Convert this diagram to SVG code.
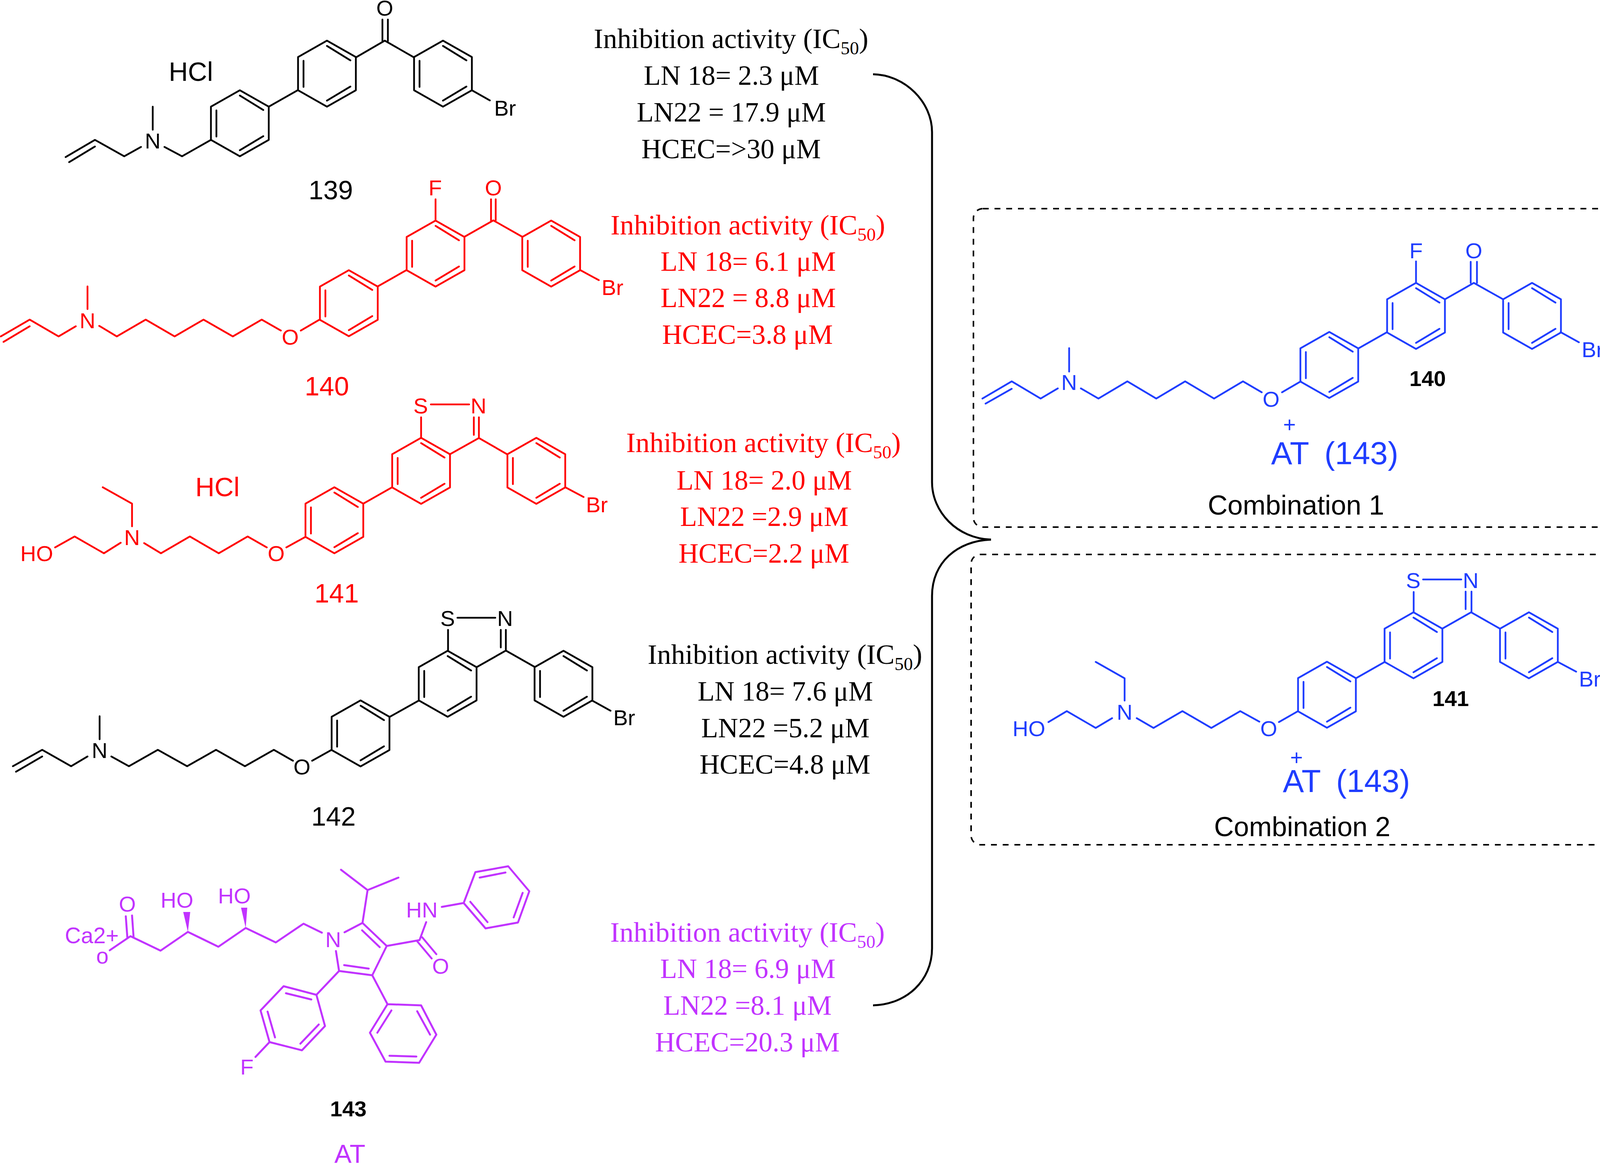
<svg xmlns="http://www.w3.org/2000/svg" width="4154" height="2979" viewBox="0 0 4154 2979">
<style>
.k{color:#000}.r{color:#f00}.u{color:#1f3dff}.p{color:#c133ff}
.b{fill:none;stroke:currentColor;stroke-width:4.5;stroke-linecap:round;stroke-linejoin:round}
text{fill:currentColor;font-family:"Liberation Sans",Arial,sans-serif}
.a{font-size:56px;text-anchor:middle}
.s{font-size:56px}
.n{font-size:68px}
.d{font-size:56px;font-weight:bold;fill:#000}
.t{font-family:"Liberation Serif","Times New Roman",serif;font-size:71px}
.h{font-size:72px}
.sub{font-size:47px}
.c{font-size:70px;fill:#000}
.at{font-size:81px;word-spacing:18px}
.box{fill:none;stroke:#000;stroke-width:4;stroke-dasharray:15 15}
.br{fill:none;stroke:#000;stroke-width:5}
</style>
<defs>
<path id="ring" class="b" d="M0-84.5L74-42.5V42.5L0 84.5L-74 42.5V-42.5ZM-60-33V34M0-71L60-34M60 33L0 69"/>
</defs>
<rect width="4154" height="2979" fill="#fff"/>

<g id="connectors">
<path class="br" d="M2235 190C2318 192 2386 262 2386 338V1234C2386 1310 2450 1378 2537 1381"/>
<path class="br" d="M2537 1381C2450 1384 2386 1440 2386 1525V2427C2386 2510 2320 2571 2235 2573"/>
</g>

<g id="m139" class="k">
<use href="#ring" x="614" y="315.5"/><use href="#ring" x="837" y="188.5"/><use href="#ring" x="1134" y="188.5"/>
<path class="b" d="M168 402L243 358L318 400L361 376M177 415L243 375M391 273V332M421 376L466 400L540 358M688 273L762 231M911 147L985 104L1060 147M979 50V105M993 50V105M1208 231L1254 257"/>
<text class="a" x="391" y="380">N</text><text class="a" x="985" y="40">O</text>
<text class="s" x="1265" y="296">Br</text>
<text class="n" x="432" y="207">HCl</text>
<text class="n" x="790" y="510">139</text>
</g>

<g id="t139" class="k">
<text class="t h" x="1520" y="123">Inhibition activity (IC<tspan class="sub" dy="16">50</tspan><tspan dy="-16">)</tspan></text>
<text class="t" x="1648" y="217">LN 18= 2.3 μM</text>
<text class="t" x="1630" y="311">LN22 = 17.9 μM</text>
<text class="t" x="1642" y="405">HCEC=&gt;30 μM</text>
</g>

<g id="m140" class="r">
<use href="#ring" x="893" y="776"/><use href="#ring" x="1115" y="649"/><use href="#ring" x="1411" y="649"/>
<path class="b" d="M2 861L76 818L150 861L194 835M9 875L76 835M224 733V791M254 834L299 861L373 818L447 861L521 818L596 861L670 818L719 846M770 846L818 818M967 733L1041 691M1115 564V510M1189 606L1263 564L1337 606M1257 510V564M1269 510V564M1485 691L1533 717"/>
<text class="a" x="224" y="840">N</text><text class="a" x="743" y="882">O</text><text class="a" x="1114" y="500">F</text><text class="a" x="1263" y="500">O</text>
<text class="s" x="1540" y="755">Br</text>
<text class="n" x="780" y="1012">140</text>
</g>

<g id="t140" class="r">
<text class="t h" x="1563" y="600">Inhibition activity (IC<tspan class="sub" dy="16">50</tspan><tspan dy="-16">)</tspan></text>
<text class="t" x="1691" y="693">LN 18= 6.1 μM</text>
<text class="t" x="1691" y="786">LN22 = 8.8 μM</text>
<text class="t" x="1695" y="880">HCEC=3.8 μM</text>
</g>

<g id="m141" class="r">
<use href="#ring" x="856" y="1331.5"/><use href="#ring" x="1078" y="1205"/><use href="#ring" x="1373" y="1205"/>
<path class="b" d="M263 1247L338 1289V1347M141 1401L191 1373L266 1416L309 1389M369 1390L412 1416L486 1373L560 1416L634 1373L683 1401M733 1401L782 1374M930 1289L1004 1247M1078 1068V1121M1103 1035H1201M1226 1068V1121M1213 1068V1113M1151 1163L1226 1121L1299 1163M1447 1247L1494 1272"/>
<text class="a" x="338" y="1395">N</text><text class="a" x="707" y="1436">O</text><text class="a" x="1077" y="1058">S</text><text class="a" x="1225" y="1058">N</text>
<text class="s" x="52" y="1436">HO</text>
<text class="s" x="1500" y="1311">Br</text>
<text class="n" x="500" y="1270">HCl</text>
<text class="n" x="805" y="1542">141</text>
</g>

<g id="t141" class="r">
<text class="t h" x="1603" y="1157">Inhibition activity (IC<tspan class="sub" dy="16">50</tspan><tspan dy="-16">)</tspan></text>
<text class="t" x="1732" y="1253">LN 18= 2.0 μM</text>
<text class="t" x="1741" y="1346">LN22 =2.9 μM</text>
<text class="t" x="1737" y="1440">HCEC=2.2 μM</text>
</g>

<g id="m142" class="k">
<use href="#ring" x="923" y="1877"/><use href="#ring" x="1146" y="1750"/><use href="#ring" x="1442.5" y="1750"/>
<path class="b" d="M33 1961L108 1919L182 1961L224 1936M41 1975L108 1936M255 1833V1892M285 1936L330 1961L404 1919L479 1961L553 1919L627 1961L701 1919L750 1947M799 1947L849 1919M997 1835L1072 1793M1147 1612V1665M1171 1581H1268M1295 1612V1665M1282 1612V1657M1221 1707L1295 1665L1369 1707M1516 1793L1563 1819"/>
<text class="a" x="255" y="1940">N</text><text class="a" x="773" y="1982">O</text><text class="a" x="1146" y="1602">S</text><text class="a" x="1293" y="1602">N</text>
<text class="s" x="1570" y="1856">Br</text>
<text class="n" x="797" y="2113">142</text>
</g>

<g id="t142" class="k">
<text class="t h" x="1658" y="1699">Inhibition activity (IC<tspan class="sub" dy="16">50</tspan><tspan dy="-16">)</tspan></text>
<text class="t" x="1786" y="1793">LN 18= 7.6 μM</text>
<text class="t" x="1795" y="1887">LN22 =5.2 μM</text>
<text class="t" x="1791" y="1980">HCEC=4.8 μM</text>
</g>

<g id="m143" class="p">
<path class="b" style="stroke-width:5" d="M322 2345L326 2399M338 2343L342 2399M281 2432L334 2396L411 2433L481 2385L559 2423L629 2375L706 2412L777 2364L824 2387M882 2386L928 2362L990 2421L953 2496L868 2485L860 2434M927 2381L972 2424M881 2470L944 2479M928 2362L941 2278L873 2226M941 2278L1020 2246M990 2421L1074 2406L1091 2360M1081 2399L1117 2442M1068 2409L1105 2453M1131 2321L1187 2311M1187 2311L1217 2232L1301 2217L1355 2281L1326 2361L1243 2376ZM1228 2246L1294 2233M1338 2285L1315 2348M1248 2360L1204 2308M868 2485L810 2546M810 2546L726 2524L667 2586L690 2667L773 2688L832 2626ZM797 2558L732 2542M685 2589L704 2655M769 2671L816 2622M690 2667L654 2705M953 2496L992 2570M992 2570L1078 2573L1117 2648L1073 2720L987 2717L947 2643ZM1002 2586L966 2643M1068 2588L1101 2648M997 2702L1066 2704"/>
<path fill="currentColor" d="M481 2385L469 2334L487 2334ZM629 2375L617 2323L633 2323Z"/>
<text class="a" style="font-size:57px" x="235" y="2414">Ca2+</text>
<text class="a" style="font-size:57px" x="262" y="2466">o</text>
<text class="a" x="326" y="2333">O</text>
<text class="a" x="453" y="2323">HO</text>
<text class="a" x="600" y="2312">HO</text>
<text class="a" x="853" y="2424">N</text>
<text class="a" x="1080" y="2348">HN</text>
<text class="a" x="1128" y="2492">O</text>
<text class="a" x="632" y="2750">F</text>
<text class="d" x="845" y="2857">143</text>
<text style="font-size:66px" x="856" y="2976">AT</text>
</g>

<g id="t143" class="p">
<text class="t h" x="1562" y="2410">Inhibition activity (IC<tspan class="sub" dy="16">50</tspan><tspan dy="-16">)</tspan></text>
<text class="t" x="1690" y="2503">LN 18= 6.9 μM</text>
<text class="t" x="1698" y="2597">LN22 =8.1 μM</text>
<text class="t" x="1677" y="2691">HCEC=20.3 μM</text>
</g>

<g id="combo1" class="u">
<rect class="box" x="2492" y="534" width="1659" height="815" rx="24"/>
<use href="#ring" x="3403" y="934"/><use href="#ring" x="3625" y="808.5"/><use href="#ring" x="3922" y="808.5"/>
<path class="b" d="M2515 1020L2590 976L2664 1020L2708 994M2523 1033L2590 995M2737 891V951M2767 994L2812 1020L2886 976L2960 1020L3034 976L3108 1020L3182 976L3230 1004M3282 1004L3330 976M3477 892L3551 850M3625 669V724M3699 766L3773 724L3848 766M3765 670V724M3781 670V724M3995 850L4042 876"/>
<text class="a" x="2737" y="998">N</text><text class="a" x="3254" y="1041">O</text><text class="a" x="3625" y="661">F</text><text class="a" x="3773" y="661">O</text>
<text class="s" x="4049" y="914">Br</text>
<text class="d" x="3608" y="988">140</text>
<text class="a" x="3301" y="1106">+</text>
<text class="at" x="3254" y="1188">AT (143)</text>
<text class="c" x="3092" y="1317">Combination 1</text>
</g>

<g id="combo2" class="u">
<rect class="box" x="2486" y="1419" width="1649" height="743" rx="24"/>
<use href="#ring" x="3397" y="1778"/><use href="#ring" x="3618.5" y="1651.5"/><use href="#ring" x="3914" y="1651.5"/>
<path class="b" d="M2805 1694L2879 1736V1793M2684 1848L2731 1820L2805 1863L2847 1838M2910 1838L2953 1863L3027 1820L3101 1863L3175 1820L3224 1847M3274 1848L3323 1820M3471 1736L3545 1694M3619 1515V1567M3643 1483H3741M3767 1514V1567M3752 1514V1559M3692 1609L3766 1567L3840 1609M3988 1694L4035 1719"/>
<text class="a" x="2879" y="1842">N</text><text class="a" x="3248" y="1884">O</text><text class="a" x="3618" y="1505">S</text><text class="a" x="3765" y="1505">N</text>
<text class="s" x="2592" y="1884">HO</text>
<text class="s" x="4042" y="1757">Br</text>
<text class="d" x="3667" y="1807">141</text>
<text class="a" x="3319" y="1958">+</text>
<text class="at" x="3284" y="2027">AT (143)</text>
<text class="c" x="3108" y="2140">Combination 2</text>
</g>
</svg>
